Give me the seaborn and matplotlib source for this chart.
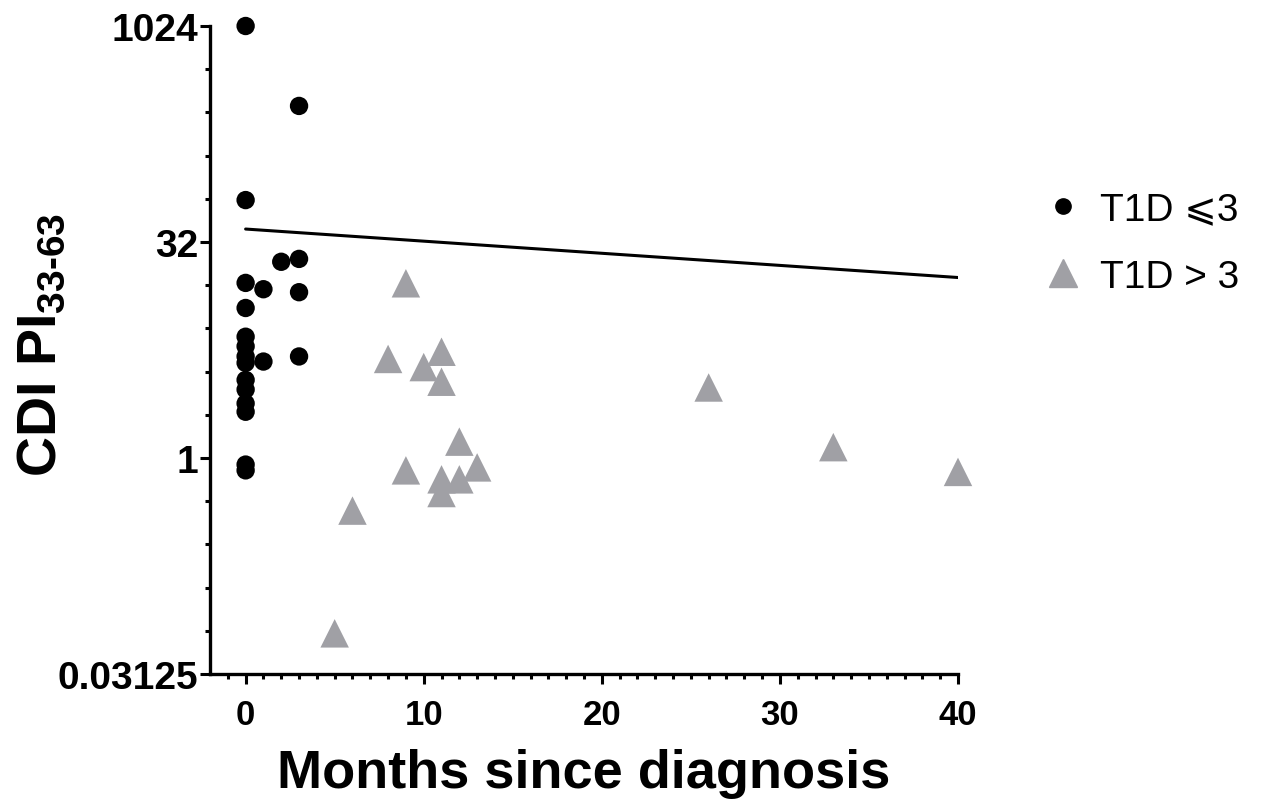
import matplotlib
matplotlib.use("Agg")
import matplotlib.pyplot as plt
import seaborn as sns
import pandas as pd
from matplotlib.lines import Line2D
from matplotlib.ticker import FixedLocator, NullFormatter
from matplotlib.font_manager import FontProperties

# T1D <= 3 group (black circles)
le3_months = [0, 0, 0, 0, 0, 0, 0, 0, 0, 0, 0, 0, 0, 0, 1, 1, 2, 3, 3, 3, 3]
le3_values = [1024, 62.7, 16.6, 11.1, 7.0, 6.0, 5.1, 4.6, 3.5, 3.0, 2.4, 2.1,
              0.90, 0.82, 15.0, 4.7, 23.3, 284, 24.4, 14.3, 5.1]

# T1D > 3 group (grey triangles)
gt3_months = [5, 6, 8, 9, 9, 10, 11, 11, 11, 11, 12, 12, 13, 26, 33, 40]
gt3_values = [0.06, 0.43, 4.9, 16.5, 0.82, 4.3, 5.5, 3.4, 0.71, 0.57, 1.3,
              0.71, 0.86, 3.1, 1.19, 0.80]

# fitted line (end points)
fit_months = [0, 40]
fit_values = [39.4, 18.1]

labels = ["T1D \u2a7d3", "T1D > 3"]
yticks = [0.03125, 1, 32, 1024]
ytick_labels = ["0.03125", "1", "32", "1024"]
xticks = [0, 10, 20, 30, 40]

grey = "#a0a0a5"

sns.set_style("ticks")
plt.rcParams["font.family"] = ["Liberation Sans", "DejaVu Sans"]
plt.rcParams["mathtext.fontset"] = "custom"
plt.rcParams["mathtext.bf"] = "Liberation Sans:bold"
plt.rcParams["mathtext.rm"] = "Liberation Sans:bold"
plt.rcParams["text.color"] = "black"
plt.rcParams["axes.labelcolor"] = "black"

df_le3 = pd.DataFrame({"months": le3_months, "value": le3_values})
df_gt3 = pd.DataFrame({"months": gt3_months, "value": gt3_values})
df_fit = pd.DataFrame({"months": fit_months, "value": fit_values})

fig = plt.figure(figsize=(12.69, 8.12), dpi=100)
ax = fig.add_axes([210 / 1269, 1 - 675 / 812, (958 - 210) / 1269, (675 - 27) / 812])

sns.lineplot(data=df_fit, x="months", y="value", color="black", lw=2.2, ax=ax)
sns.scatterplot(data=df_gt3, x="months", y="value", marker="^", s=420,
                color=grey, edgecolor="none", ax=ax, clip_on=False, zorder=3)
sns.scatterplot(data=df_le3, x="months", y="value", marker="o", s=175,
                color="black", edgecolor="none", ax=ax, clip_on=False, zorder=4)

ax.set_yscale("log", base=2)
ax.set_ylim(2 ** -5, 2 ** 10)
ax.set_xlim(-2, 40)

ax.yaxis.set_major_locator(FixedLocator(yticks))
ax.set_yticklabels(ytick_labels)
ax.yaxis.set_minor_locator(FixedLocator([2.0 ** k for k in range(-5, 11)]))
ax.yaxis.set_minor_formatter(NullFormatter())
ax.set_xticks(xticks)
ax.xaxis.set_minor_locator(FixedLocator(list(range(-1, 40))))

for s in ["top", "right"]:
    ax.spines[s].set_visible(False)
for s in ["left", "bottom"]:
    ax.spines[s].set_linewidth(2.4)
    ax.spines[s].set_color("black")

ax.tick_params(axis="both", which="major", length=7.5, width=2.2,
               colors="black")
ax.tick_params(axis="both", which="minor", length=3.8, width=2.2, colors="black")
ax.tick_params(axis="x", which="major", pad=10, labelsize=25)
ax.tick_params(axis="y", which="major", pad=1, labelsize=28)
for lab in ax.get_xticklabels() + ax.get_yticklabels():
    lab.set_fontweight("bold")

ax.set_xlabel("Months since diagnosis", fontsize=39, fontweight="bold", labelpad=12)
ax.set_ylabel(r"CDI PI$_{\mathbf{33{\text{-}}63}}$", fontsize=40,
              fontweight="bold", labelpad=8)
ax.yaxis.set_label_coords(-0.19, 0.51)

handles = [
    Line2D([], [], ls="none", marker="o", color="black", markersize=11),
    Line2D([], [], ls="none", marker="^", color=grey, markersize=20),
]
leg = ax.legend(handles, labels, loc="center left", bbox_to_anchor=(1.068, 0.665),
                frameon=False, prop=FontProperties(family=["Liberation Sans", "DejaVu Sans"], size=28),
                handlelength=1.0, handletextpad=0.45, labelspacing=0.8)
for t in leg.get_texts():
    t.set_color("black")

fig.savefig("out.png", dpi=100)
